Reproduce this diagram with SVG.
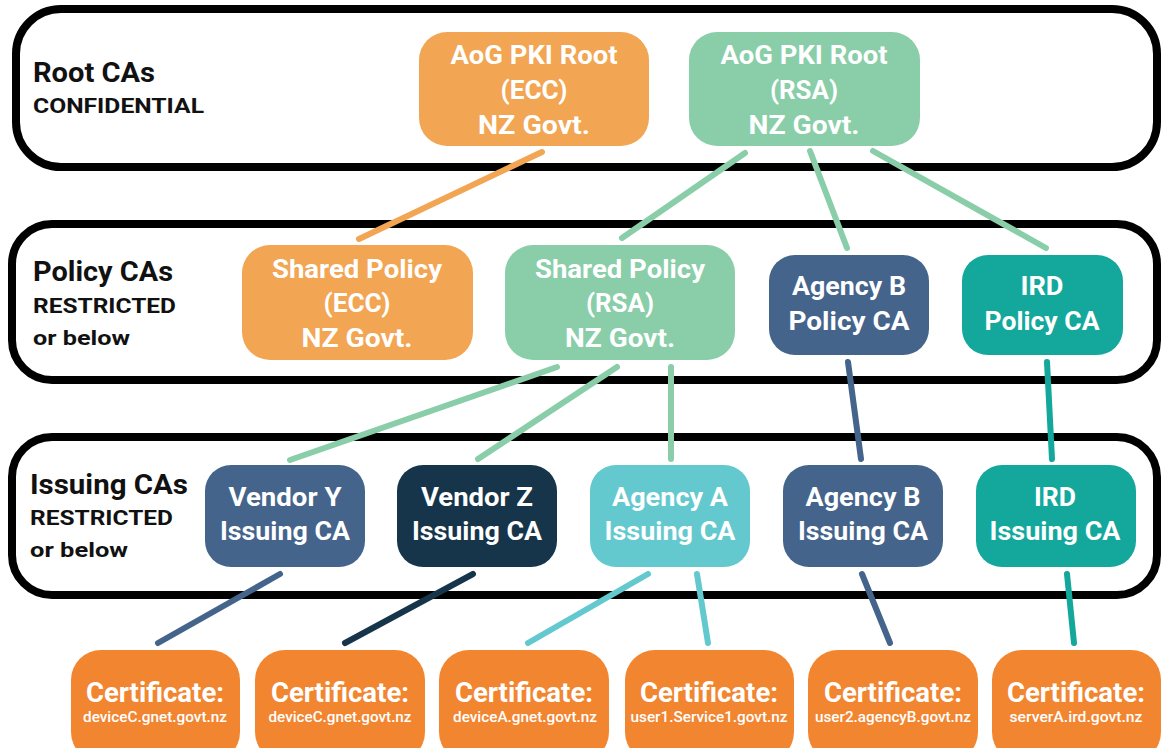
<svg xmlns="http://www.w3.org/2000/svg" width="1161" height="748" viewBox="0 0 1161 748">
<style>
.band{fill:none;stroke:#000;stroke-width:8}
.lbl{font-family:Roboto,"Liberation Sans",sans-serif;font-weight:bold;fill:#111}
.big{font-size:27px}
.sm{font-size:21px}
.nt{font-family:Roboto,"Liberation Sans",sans-serif;font-weight:bold;fill:#fff;font-size:26px;text-anchor:middle}
.ct{font-family:Roboto,"Liberation Sans",sans-serif;font-weight:bold;fill:#fff;font-size:27px;text-anchor:middle}
.dt{font-family:Roboto,"Liberation Sans",sans-serif;font-weight:500;fill:#fff;font-size:15px;text-anchor:middle}
.c{stroke-width:6;stroke-linecap:round;fill:none}
.orl{fill:#F2A553}.grn{fill:#89CEA9}.sla{fill:#44648C}.nav{fill:#16344A}.ltl{fill:#63C9CF}.tea{fill:#14A89D}.cer{fill:#F28530}
</style>
<rect width="1161" height="748" fill="#fff"/>
<g id="band-root">
<rect class="band" x="16" y="9" width="1141" height="158" rx="45"/>
<text class="lbl big" x="33" y="82" textLength="122" lengthAdjust="spacingAndGlyphs">Root CAs</text>
<text class="lbl sm" x="33" y="113" textLength="171" lengthAdjust="spacingAndGlyphs">CONFIDENTIAL</text>
</g>
<g id="band-policy">
<rect class="band" x="12" y="224" width="1145" height="156" rx="40"/>
<text class="lbl big" x="33" y="281" textLength="140" lengthAdjust="spacingAndGlyphs">Policy CAs</text>
<text class="lbl sm" x="33" y="313" textLength="143" lengthAdjust="spacingAndGlyphs">RESTRICTED</text>
<text class="lbl sm" x="33" y="345" textLength="97" lengthAdjust="spacingAndGlyphs">or below</text>
</g>
<g id="band-issuing">
<rect class="band" x="12" y="437" width="1145" height="158" rx="40"/>
<text class="lbl big" x="30" y="494" textLength="158" lengthAdjust="spacingAndGlyphs">Issuing CAs</text>
<text class="lbl sm" x="30" y="525" textLength="143" lengthAdjust="spacingAndGlyphs">RESTRICTED</text>
<text class="lbl sm" x="30" y="557" textLength="98" lengthAdjust="spacingAndGlyphs">or below</text>
</g>
<g id="connectors">
<line class="c" stroke="#F2A553" x1="542" y1="152" x2="359" y2="239"/>
<line class="c" stroke="#89CEA9" x1="745" y1="153" x2="622" y2="238"/>
<line class="c" stroke="#89CEA9" x1="810" y1="151" x2="847" y2="248"/>
<line class="c" stroke="#89CEA9" x1="873" y1="151" x2="1046" y2="248"/>
<line class="c" stroke="#89CEA9" x1="557" y1="367" x2="290" y2="460"/>
<line class="c" stroke="#89CEA9" x1="617" y1="367" x2="478" y2="459"/>
<line class="c" stroke="#89CEA9" x1="671" y1="367" x2="671" y2="459"/>
<line class="c" stroke="#44648C" x1="848" y1="362" x2="861" y2="459"/>
<line class="c" stroke="#14A89D" x1="1047" y1="362" x2="1052" y2="459"/>
<line class="c" stroke="#44648C" x1="280" y1="574" x2="158" y2="643"/>
<line class="c" stroke="#16344A" x1="473" y1="574" x2="345" y2="643"/>
<line class="c" stroke="#63C9CF" x1="648" y1="574" x2="528" y2="643"/>
<line class="c" stroke="#63C9CF" x1="697" y1="574" x2="708" y2="643"/>
<line class="c" stroke="#44648C" x1="862" y1="574" x2="890" y2="643"/>
<line class="c" stroke="#14A89D" x1="1067" y1="574" x2="1074" y2="643"/>
</g>
<g id="root-ecc">
<rect class="orl" x="419" y="32" width="230" height="114" rx="28"/>
<text class="nt" x="534" y="64" textLength="167" lengthAdjust="spacingAndGlyphs">AoG PKI Root</text>
<text class="nt" x="534" y="99" textLength="67" lengthAdjust="spacingAndGlyphs">(ECC)</text>
<text class="nt" x="534" y="134" textLength="112" lengthAdjust="spacingAndGlyphs">NZ Govt.</text>
</g>
<g id="root-rsa">
<rect class="grn" x="689" y="32" width="231" height="114" rx="28"/>
<text class="nt" x="804" y="64" textLength="167" lengthAdjust="spacingAndGlyphs">AoG PKI Root</text>
<text class="nt" x="804" y="99" textLength="68" lengthAdjust="spacingAndGlyphs">(RSA)</text>
<text class="nt" x="804" y="134" textLength="111" lengthAdjust="spacingAndGlyphs">NZ Govt.</text>
</g>
<g id="policy-ecc">
<rect class="orl" x="242" y="245" width="231" height="115" rx="28"/>
<text class="nt" x="357" y="278" textLength="170" lengthAdjust="spacingAndGlyphs">Shared Policy</text>
<text class="nt" x="357" y="312" textLength="67" lengthAdjust="spacingAndGlyphs">(ECC)</text>
<text class="nt" x="357" y="347" textLength="111" lengthAdjust="spacingAndGlyphs">NZ Govt.</text>
</g>
<g id="policy-rsa">
<rect class="grn" x="505" y="245" width="230" height="115" rx="28"/>
<text class="nt" x="620" y="278" textLength="170" lengthAdjust="spacingAndGlyphs">Shared Policy</text>
<text class="nt" x="620" y="312" textLength="68" lengthAdjust="spacingAndGlyphs">(RSA)</text>
<text class="nt" x="620" y="347" textLength="110" lengthAdjust="spacingAndGlyphs">NZ Govt.</text>
</g>
<g id="policy-agencyb">
<rect class="sla" x="769" y="255" width="160" height="100" rx="26"/>
<text class="nt" x="849" y="295" textLength="114" lengthAdjust="spacingAndGlyphs">Agency B</text>
<text class="nt" x="849" y="330" textLength="121" lengthAdjust="spacingAndGlyphs">Policy CA</text>
</g>
<g id="policy-ird">
<rect class="tea" x="962" y="255" width="161" height="100" rx="26"/>
<text class="nt" x="1042" y="295" textLength="43" lengthAdjust="spacingAndGlyphs">IRD</text>
<text class="nt" x="1042" y="330" textLength="115" lengthAdjust="spacingAndGlyphs">Policy CA</text>
</g>
<g id="issuing-vendory">
<rect class="sla" x="205" y="465" width="160" height="102" rx="26"/>
<text class="nt" x="285" y="506" textLength="113" lengthAdjust="spacingAndGlyphs">Vendor Y</text>
<text class="nt" x="285" y="540" textLength="130" lengthAdjust="spacingAndGlyphs">Issuing CA</text>
</g>
<g id="issuing-vendorz">
<rect class="nav" x="397" y="465" width="160" height="102" rx="26"/>
<text class="nt" x="477" y="506" textLength="112" lengthAdjust="spacingAndGlyphs">Vendor Z</text>
<text class="nt" x="477" y="540" textLength="130" lengthAdjust="spacingAndGlyphs">Issuing CA</text>
</g>
<g id="issuing-agencya">
<rect class="ltl" x="590" y="465" width="160" height="102" rx="26"/>
<text class="nt" x="670" y="506" textLength="116" lengthAdjust="spacingAndGlyphs">Agency A</text>
<text class="nt" x="670" y="540" textLength="131" lengthAdjust="spacingAndGlyphs">Issuing CA</text>
</g>
<g id="issuing-agencyb">
<rect class="sla" x="783" y="465" width="160" height="102" rx="26"/>
<text class="nt" x="863" y="506" textLength="115" lengthAdjust="spacingAndGlyphs">Agency B</text>
<text class="nt" x="863" y="540" textLength="130" lengthAdjust="spacingAndGlyphs">Issuing CA</text>
</g>
<g id="issuing-ird">
<rect class="tea" x="976" y="465" width="160" height="102" rx="26"/>
<text class="nt" x="1055" y="506" textLength="42" lengthAdjust="spacingAndGlyphs">IRD</text>
<text class="nt" x="1055" y="540" textLength="131" lengthAdjust="spacingAndGlyphs">Issuing CA</text>
</g>
<g id="cert-1">
<rect class="cer" x="71" y="650" width="169" height="112" rx="30"/>
<text class="ct" x="155" y="702" textLength="138" lengthAdjust="spacingAndGlyphs">Certificate:</text>
<text class="dt" x="155" y="722" textLength="144" lengthAdjust="spacingAndGlyphs">deviceC.gnet.govt.nz</text>
</g>
<g id="cert-2">
<rect class="cer" x="255" y="650" width="170" height="112" rx="30"/>
<text class="ct" x="340" y="702" textLength="138" lengthAdjust="spacingAndGlyphs">Certificate:</text>
<text class="dt" x="340" y="722" textLength="143" lengthAdjust="spacingAndGlyphs">deviceC.gnet.govt.nz</text>
</g>
<g id="cert-3">
<rect class="cer" x="439" y="650" width="170" height="112" rx="30"/>
<text class="ct" x="524" y="702" textLength="138" lengthAdjust="spacingAndGlyphs">Certificate:</text>
<text class="dt" x="525" y="722" textLength="144" lengthAdjust="spacingAndGlyphs">deviceA.gnet.govt.nz</text>
</g>
<g id="cert-4">
<rect class="cer" x="625" y="650" width="169" height="112" rx="30"/>
<text class="ct" x="709" y="702" textLength="138" lengthAdjust="spacingAndGlyphs">Certificate:</text>
<text class="dt" x="709" y="722" textLength="157" lengthAdjust="spacingAndGlyphs">user1.Service1.govt.nz</text>
</g>
<g id="cert-5">
<rect class="cer" x="808" y="650" width="170" height="112" rx="30"/>
<text class="ct" x="893" y="702" textLength="138" lengthAdjust="spacingAndGlyphs">Certificate:</text>
<text class="dt" x="893" y="722" textLength="156" lengthAdjust="spacingAndGlyphs">user2.agencyB.govt.nz</text>
</g>
<g id="cert-6">
<rect class="cer" x="992" y="650" width="169" height="112" rx="30"/>
<text class="ct" x="1076" y="702" textLength="138" lengthAdjust="spacingAndGlyphs">Certificate:</text>
<text class="dt" x="1076" y="722" textLength="133" lengthAdjust="spacingAndGlyphs">serverA.ird.govt.nz</text>
</g>
</svg>
